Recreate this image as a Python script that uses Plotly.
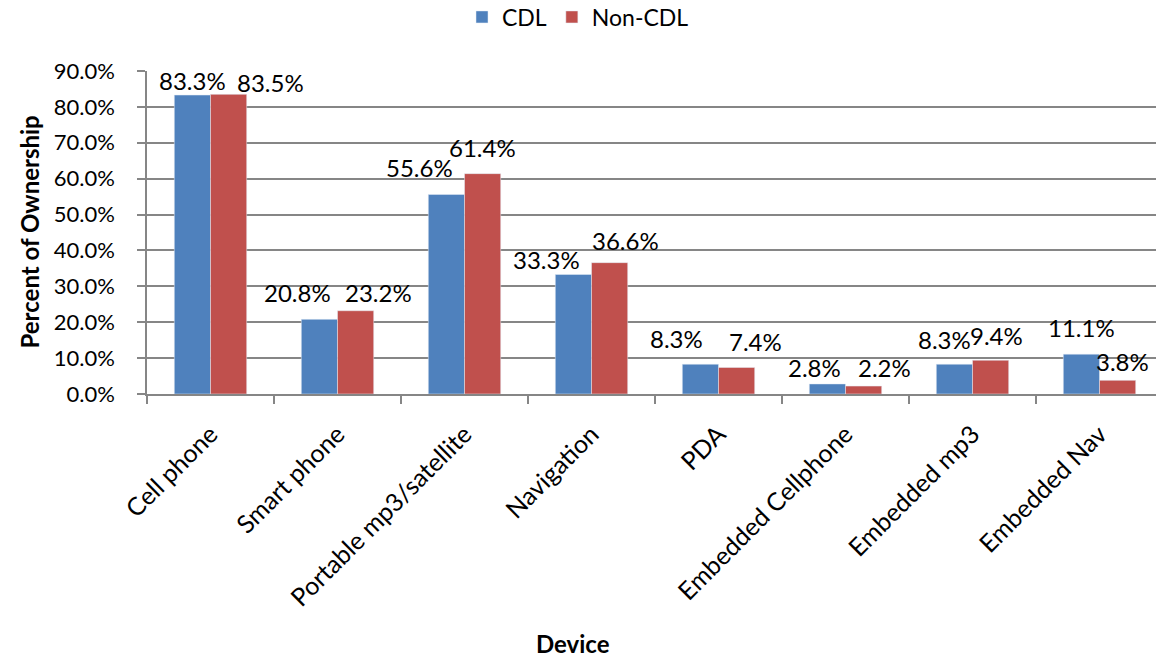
import plotly.graph_objects as go

categories = ["Cell phone", "Smart phone", "Portable mp3/satellite", "Navigation",
              "PDA", "Embedded Cellphone", "Embedded mp3", "Embedded Nav"]
cdl = [83.3, 20.8, 55.6, 33.3, 8.3, 2.8, 8.3, 11.1]
non_cdl = [83.5, 23.2, 61.4, 36.6, 7.4, 2.2, 9.4, 3.8]

# label placement offsets in pixels (style only), relative to bar centre / bar top
cdl_dx = [0, -22, -27, -27, -24, -13, -10, 0]
cdl_dy = [15, 27, 27, 15, 26, 16, 25, 27]
non_dx = [42, 23, 0, 16, 19, 21, 6, 5]
non_dy = [12, 18, 26, 22, 26, 19, 25, 19]

FONT = "Lato"
W, H = 1156, 657
ML, MR, MT, MB = 147, 0, 71, 263
cat_px = 127.0
bar_px = cat_px * (1 - 0.43) / 2

fig = go.Figure()
fig.add_trace(go.Bar(name="CDL", x=categories, y=cdl, marker_color="#4F81BD"))
fig.add_trace(go.Bar(name="Non-CDL", x=categories, y=non_cdl, marker_color="#C0504D"))

for series, dxs, dys, sign in ((cdl, cdl_dx, cdl_dy, -1), (non_cdl, non_dx, non_dy, 1)):
    for cat, v, dx, dy in zip(categories, series, dxs, dys):
        fig.add_annotation(x=cat, y=v, xref="x", yref="y", text=f"{v:.1f}%",
                           showarrow=False, xanchor="center", yanchor="middle",
                           xshift=sign * bar_px / 2 + dx, yshift=dy,
                           font=dict(size=24, color="black", family=FONT))

plot_w = W - ML - MR
plot_h = H - MT - MB
fig.add_annotation(text="<b>Device</b>", xref="paper", yref="paper",
                   x=(573 - ML) / plot_w, y=-(643 - MT - plot_h) / plot_h,
                   showarrow=False, xanchor="center", yanchor="middle",
                   font=dict(size=24, family=FONT, color="black"))
fig.add_annotation(text="<b>Percent of Ownership</b>", xref="paper", yref="paper",
                   x=(29 - ML) / plot_w, y=0.5, textangle=-90,
                   showarrow=False, xanchor="center", yanchor="middle",
                   font=dict(size=24, family=FONT, color="black"))

fig.update_layout(
    width=W, height=H,
    margin=dict(l=ML, r=MR, t=MT, b=MB, autoexpand=False),
    paper_bgcolor="white", plot_bgcolor="white",
    font=dict(family=FONT, size=22, color="black"),
    barmode="group", bargap=0.43, bargroupgap=0,
    legend=dict(orientation="h", xref="container", yref="container",
                x=0.5, xanchor="center", y=1 - 17 / H, yanchor="middle",
                font=dict(size=23), itemwidth=30),
)
fig.update_xaxes(
    range=[-0.5, -0.5 + plot_w / cat_px], tickangle=-45, tickson="boundaries",
    ticks="outside", ticklen=8, tickcolor="#868686", tickwidth=1.5,
    showline=True, linecolor="#868686", linewidth=1.5,
    tickfont=dict(size=25), automargin=False, ticklabelstandoff=14,
)
fig.update_yaxes(
    range=[0, 90], dtick=10, tickformat=".1f", ticksuffix="%",
    showgrid=True, gridcolor="#868686", gridwidth=1.5,
    ticks="outside", ticklen=8, tickcolor="#868686", tickwidth=1.5,
    showline=True, linecolor="#868686", linewidth=1.5,
    tickfont=dict(size=22), automargin=False, ticklabelstandoff=18,
    zeroline=False,
)
fig.write_html("out.html", config={"displayModeBar": False},
               post_script="document.body.style.margin='0';document.body.style.overflow='hidden';")
